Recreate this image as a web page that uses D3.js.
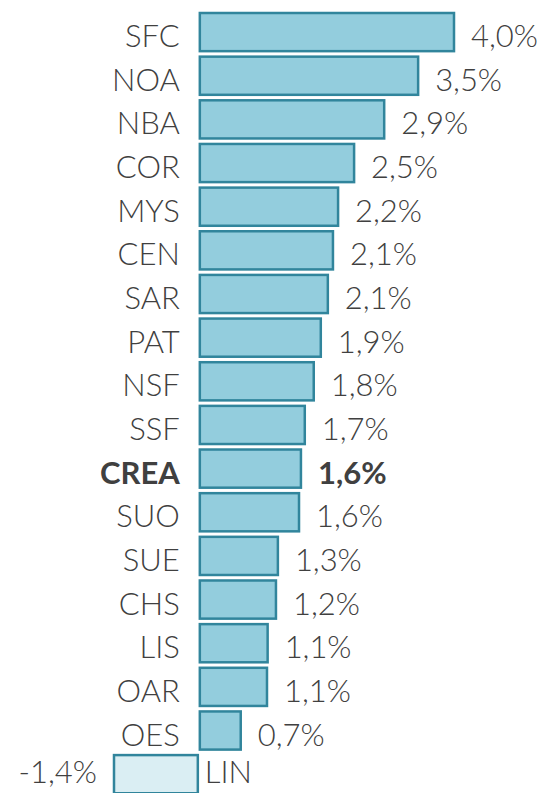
<!DOCTYPE html>
<html>
<head>
<meta charset="utf-8">
<script src="https://cdn.jsdelivr.net/npm/d3@7"></script>
<style>
  body { margin: 0; background: #fff; }
  svg text { font-family: "Lato", "Open Sans", sans-serif; fill: #404040; }
</style>
</head>
<body>
<svg id="chart"></svg>
<script>
// regions, ranked
const regions = ["SFC", "NOA", "NBA", "COR", "MYS", "CEN", "SAR", "PAT", "NSF", "SSF",
  "CREA", "SUO", "SUE", "CHS", "LIS", "OAR", "OES", "LIN"];
const values = [4.0, 3.44, 2.91, 2.44, 2.19, 2.11, 2.03, 1.92, 1.81, 1.67,
  1.61, 1.58, 1.25, 1.22, 1.09, 1.08, 0.67, -1.34];
const valueLabels = ["4,0%", "3,5%", "2,9%", "2,5%", "2,2%", "2,1%", "2,1%", "1,9%", "1,8%", "1,7%",
  "1,6%", "1,6%", "1,3%", "1,2%", "1,1%", "1,1%", "0,7%", "-1,4%"];
const highlight = "CREA";

const width = 544, height = 793;
const svg = d3.select("#chart").attr("width", width).attr("height", height);

const x = d3.scaleLinear()
  .domain([d3.min(values), d3.max(values)])
  .range([113, 455]);

const y = d3.scaleBand()
  .domain(regions)
  .range([10.25, 796])
  .paddingInner(0.08)
  .paddingOuter(0.04);

const data = regions.map((r, i) => ({ name: r, v: values[i], label: valueLabels[i] }));

// text baseline, kept inside the bottom edge for the last (cut) bar
const baseY = d => Math.min(y(d.name) + y.bandwidth() / 2 + 15, height - 10);

// bars
svg.append("g")
  .selectAll("rect")
  .data(data)
  .join("rect")
  .attr("x", d => x(Math.min(0, d.v)) + 1)
  .attr("y", d => y(d.name) + 1)
  .attr("width", d => Math.abs(x(d.v) - x(0)) - 2)
  .attr("height", y.bandwidth() - 2)
  .attr("fill", d => d.v < 0 ? "#daeef3" : "#93cddd")
  .attr("stroke", "#31859c")
  .attr("stroke-width", 2.5);

// category labels
svg.append("g")
  .selectAll("text")
  .data(data)
  .join("text")
  .attr("x", d => d.v < 0 ? x(0) + 6 : x(0) - 19)
  .attr("y", baseY)
  .attr("text-anchor", d => d.v < 0 ? "start" : "end")
  .attr("font-size", 31)
  .attr("font-weight", d => d.name === highlight ? "bold" : 300)
  .text(d => d.name);

// value labels
svg.append("g")
  .selectAll("text")
  .data(data)
  .join("text")
  .attr("x", d => d.v < 0 ? x(d.v) - 16 : x(d.v) + 16)
  .attr("y", baseY)
  .attr("text-anchor", d => d.v < 0 ? "end" : "start")
  .attr("font-size", 31)
  .attr("font-weight", d => d.name === highlight ? "bold" : 300)
  .text(d => d.label);
</script>
</body>
</html>
